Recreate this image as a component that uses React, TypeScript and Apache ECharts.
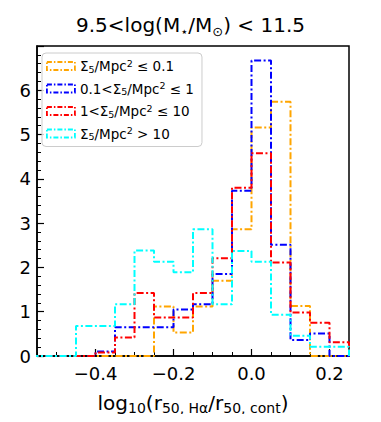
import React, { useEffect, useRef } from "react";
import * as echarts from "echarts";

// Histogram bin edges (left edges of bins, plus final right edge)
const binEdges = [-0.6, -0.55, -0.5, -0.45, -0.4, -0.35, -0.3, -0.25, -0.2, -0.15, -0.1, -0.05, 0.0, 0.05, 0.1, 0.15, 0.2, 0.25];

// Normalized histogram values per bin (17 bins)
const lowDensity = [0, 0, 0, 0, 0, 0, 0, 1.12, 0.53, 1.12, 1.7, 2.86, 5.16, 5.74, 1.13, 0, 0];
const midLowDensity = [0, 0, 0, 0, 0.1, 0.65, 0.65, 0.65, 1.05, 1.17, 1.85, 3.73, 6.67, 2.51, 0.36, 0.51, 0];
const midHighDensity = [0, 0, 0, 0, 0.08, 0.42, 1.42, 0.87, 0.87, 1.42, 2.21, 3.8, 4.58, 2.11, 0.98, 0.75, 0.31];
const highDensity = [0, 0, 0, 0.68, 0.68, 1.17, 2.38, 2.13, 1.89, 2.86, 1.17, 2.37, 2.13, 0.93, 0.46, 0.21, 0.21];

const seriesNames = ["low", "midLow", "midHigh", "high"];
const seriesColors = ["#FFA500", "#0000FF", "#FF0000", "#00FFFF"];
const legendLabels = [
  "{t|Σ}{s|5}{t|/Mpc}{u|2}{t| ≤ 0.1}",
  "{t|0.1<Σ}{s|5}{t|/Mpc}{u|2}{t| ≤ 1}",
  "{t|1<Σ}{s|5}{t|/Mpc}{u|2}{t| ≤ 10}",
  "{t|Σ}{s|5}{t|/Mpc}{u|2}{t| > 10}",
];
const xMajorTicks = [-0.4, -0.2, 0.0, 0.2];
const yLabels = [0, 1, 2, 3, 4, 5, 6];

const FONT = "DejaVu Sans";
const DASH = [7, 2.5, 2, 2.5];

function stepData(vals: number[]) {
  const pts: number[][] = [[binEdges[0], 0]];
  vals.forEach((v, i) => pts.push([binEdges[i], v]));
  pts.push([binEdges[vals.length], 0]);
  return pts;
}

export default function App() {
  const ref = useRef<HTMLDivElement>(null);
  useEffect(() => {
    if (!ref.current) return;
    const chart = echarts.init(ref.current, null, { renderer: "svg" });
    const allVals = [lowDensity, midLowDensity, midHighDensity, highDensity];
    const fmtX = (v: number) => {
      const s = Math.abs(v).toFixed(1);
      return v < -1e-9 ? "\u2212" + s : s;
    };
    chart.setOption({
      animation: false,
      textStyle: { fontFamily: FONT },
      title: {
        text: "{t|9.5<log(M}{s|⋆}{t|/M}{s|⊙}{t|) < 11.5}",
        left: "center",
        top: 12,
        padding: [0, 0, 0, 5],
        textStyle: {
          fontWeight: "normal",
          rich: {
            t: { fontSize: 20, fontFamily: FONT, fontWeight: "normal", color: "#000", lineHeight: 26 },
            s: { fontSize: 13, fontFamily: FONT, fontWeight: "normal", color: "#000", verticalAlign: "bottom", lineHeight: 14 },
          },
        },
      },
      grid: {
        left: 37,
        right: 32,
        top: 46,
        bottom: 66,
        show: true,
        borderColor: "#000",
        borderWidth: 1.5,
        backgroundColor: "transparent",
      },
      legend: {
        orient: "vertical",
        left: 42,
        top: 53,
        backgroundColor: "rgba(255,255,255,0.8)",
        borderColor: "#cccccc",
        borderWidth: 1,
        borderRadius: 4,
        padding: [5, 8, 5, 4],
        itemWidth: 28,
        itemHeight: 8,
        itemGap: 6.5,
        icon: "rect",
        data: seriesNames.map((n, i) => ({
          name: n,
          itemStyle: {
            color: "rgba(0,0,0,0)",
            borderColor: seriesColors[i],
            borderWidth: 1.8,
            borderType: [5, 2, 1.5, 2],
          },
        })),
        formatter: (name: string) => legendLabels[seriesNames.indexOf(name)],
        textStyle: {
          rich: {
            t: { fontSize: 13.5, fontFamily: FONT, color: "#000", lineHeight: 16 },
            s: { fontSize: 9.5, fontFamily: FONT, color: "#000", verticalAlign: "bottom", lineHeight: 9 },
            u: { fontSize: 9.5, fontFamily: FONT, color: "#000", verticalAlign: "top", lineHeight: 9 },
          },
        },
      },
      xAxis: [
        {
          type: "value",
          min: -0.55,
          max: 0.25,
          interval: 0.05,
          position: "bottom",
          axisLine: { show: true, onZero: false, lineStyle: { color: "#000", width: 1.5 } },
          axisTick: { show: true, inside: true, length: 4, lineStyle: { color: "#000", width: 1 } },
          splitLine: { show: false },
          axisLabel: {
            margin: 8,
            fontSize: 18,
            color: "#000",
            fontFamily: FONT,
            formatter: (v: number) => (Math.round(v * 20) % 4 === 0 ? fmtX(v) : ""),
          },
          name: "{t|log}{s|10}{t|(r}{s|50, Hα}{t|/r}{s|50, cont}{t|)}",
          nameLocation: "middle",
          nameGap: 35,
          nameTextStyle: {
            rich: {
              t: { fontSize: 20, fontFamily: FONT, color: "#000", lineHeight: 24 },
              s: { fontSize: 14, fontFamily: FONT, color: "#000", verticalAlign: "bottom", lineHeight: 14 },
            },
          },
        },
        {
          type: "value",
          min: -0.55,
          max: 0.25,
          position: "bottom",
          axisLine: { show: false, onZero: false },
          axisLabel: { show: false },
          splitLine: { show: false },
          axisTick: {
            show: true,
            inside: true,
            length: 7,
            customValues: xMajorTicks,
            lineStyle: { color: "#000", width: 1.2 },
          },
        },
      ],
      yAxis: {
        type: "value",
        min: 0,
        max: 7,
        interval: 1,
        axisLine: { show: true, onZero: false, lineStyle: { color: "#000", width: 1.5 } },
        axisTick: { show: true, inside: true, length: 7, lineStyle: { color: "#000", width: 1.2 } },
        minorTick: { show: true, splitNumber: 5, length: 4, lineStyle: { color: "#000", width: 1 } },
        splitLine: { show: false },
        minorSplitLine: { show: false },
        axisLabel: {
          margin: 6,
          fontSize: 18,
          color: "#000",
          fontFamily: FONT,
          formatter: (v: number) => (yLabels.indexOf(v) >= 0 ? String(v) : ""),
        },
      },
      series: seriesNames.map((n, i) => ({
        name: n,
        type: "line",
        step: "end",
        xAxisIndex: 0,
        symbol: "none",
        clip: true,
        data: stepData(allVals[i]),
        itemStyle: { color: seriesColors[i] },
        lineStyle: { color: seriesColors[i], width: 2, type: DASH },
      })),
    });
    return () => chart.dispose();
  }, []);
  return <div ref={ref} style={{ width: 381, height: 422, margin: -8 }} />;
}
